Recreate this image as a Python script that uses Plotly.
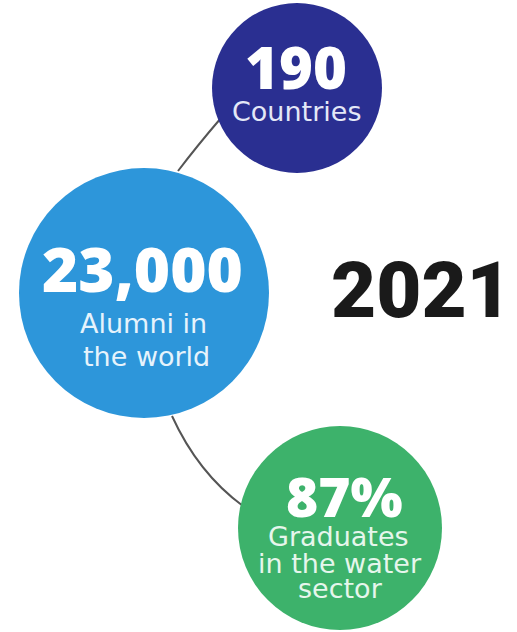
import plotly.graph_objects as go

# Data
values = ["190", "23,000", "87%"]
labels = [["Countries"], ["Alumni in", "the world"], ["Graduates", "in the water", "sector"]]
year = "2021"

# Layout (pixel-space geometry)
W, H = 517, 632
centers = [(297, 88), (144, 293), (340, 528)]
radii = [85, 125, 102]
colors = ["#2A2F91", "#2D96DA", "#3DB26B"]
value_sizes = [58, 62, 55]
value_pos = [(296, 66), (142, 268), (344, 495)]
label_size = 27
label_pos = [[(296, 111)], [(143, 323), (146, 356)], [(338, 536), (340, 563), (340, 588)]]
label_colors = ["#E4E8F7", "#E6F3FC", "#E6F6EC"]

fig = go.Figure()

shapes = []
# connectors
shapes.append(dict(type="path", path="M 178 171 Q 197 146 221 118",
                   line=dict(color="#555555", width=2), layer="below"))
shapes.append(dict(type="path", path="M 172 416 Q 198 473 243 506",
                   line=dict(color="#555555", width=2), layer="below"))
for (cx, cy), r, c in zip(centers, radii, colors):
    shapes.append(dict(type="circle", x0=cx - r, x1=cx + r, y0=cy - r, y1=cy + r,
                       fillcolor=c, line=dict(width=0), layer="above"))

annotations = []
for v, (vx, vy), vs, labs, lps, lc in zip(values, value_pos, value_sizes, labels, label_pos, label_colors):
    annotations.append(dict(x=vx, y=vy, text=v, showarrow=False,
                            font=dict(family="Open Sans", size=vs, color="white", weight=800),
                            xanchor="center", yanchor="middle"))
    for lab, (lx, ly) in zip(labs, lps):
        annotations.append(dict(x=lx, y=ly, text=lab, showarrow=False,
                                font=dict(family="DejaVu Sans", size=label_size, color=lc),
                                xanchor="center", yanchor="middle"))
annotations.append(dict(x=421, y=290, text=year, showarrow=False,
                        font=dict(family="Roboto", size=78, color="#1A1A1A", weight=900),
                        xanchor="center", yanchor="middle"))

fig.update_layout(
    width=W, height=H, margin=dict(l=0, r=0, t=0, b=0),
    paper_bgcolor="white", plot_bgcolor="white",
    xaxis=dict(range=[0, W], visible=False, fixedrange=True),
    yaxis=dict(range=[H, 0], visible=False, fixedrange=True),
    shapes=shapes, annotations=annotations, showlegend=False,
)
fig.write_html("out.html", config={"displayModeBar": False},
               post_script="document.body.style.margin='0';document.body.style.overflow='hidden';")
